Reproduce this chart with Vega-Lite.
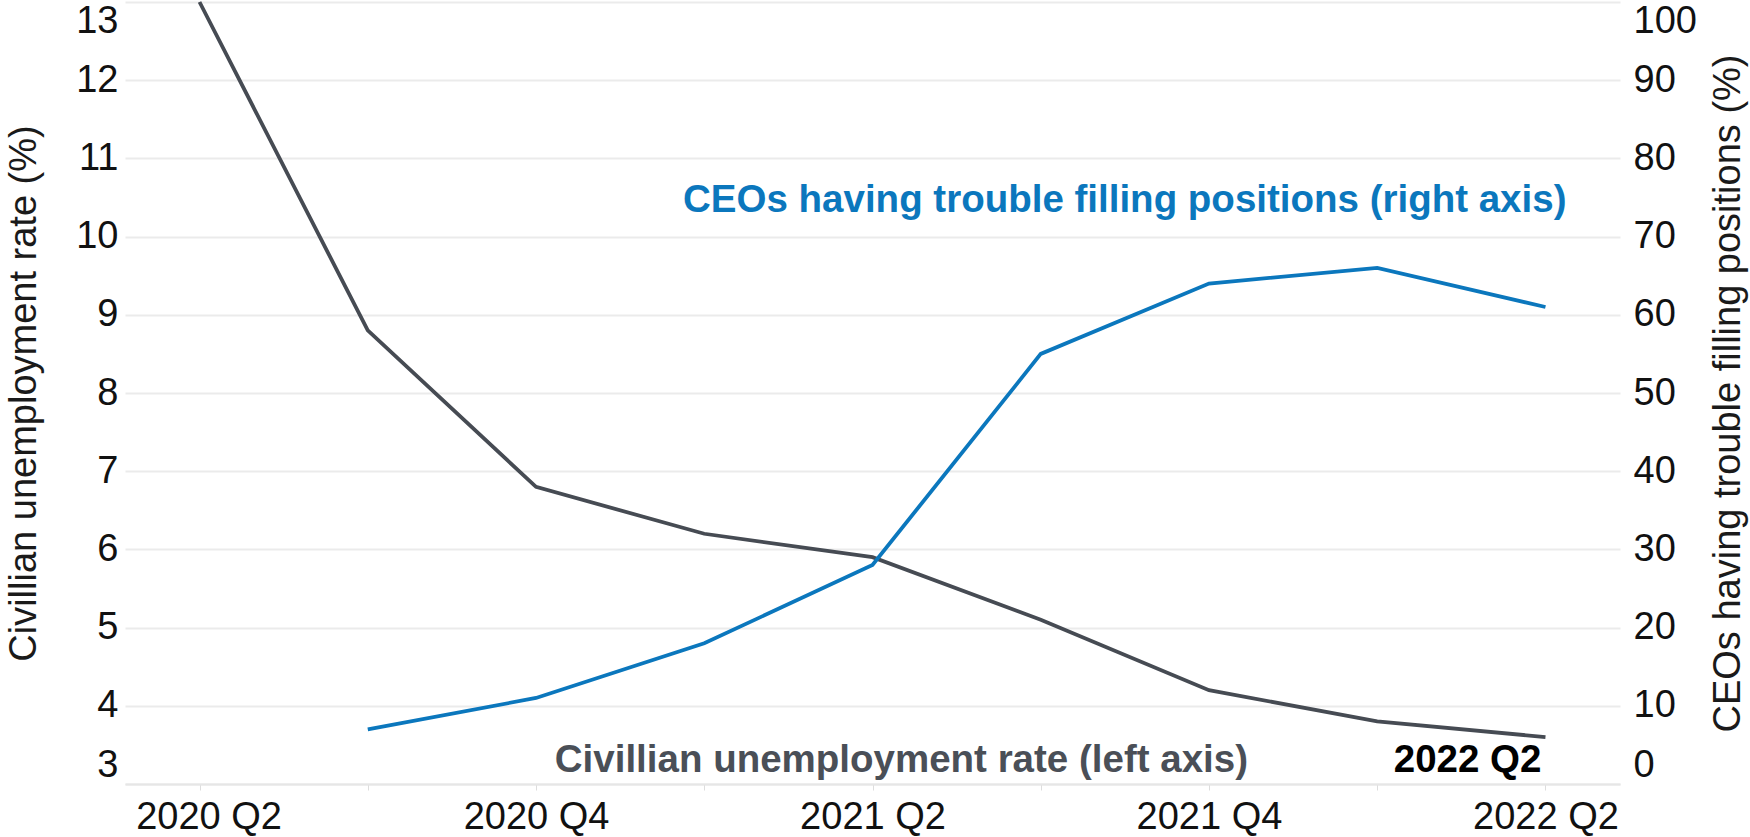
{
  "$schema": "https://vega.github.io/schema/vega-lite/v6.json",
  "width": 1495,
  "height": 782,
  "autosize": {"type": "none"},
  "padding": {"left": 125, "top": 2, "right": 130, "bottom": 53},
  "background": "white",
  "config": {
    "view": {"stroke": null},
    "font": "Liberation Sans",
    "axis": {"labelFont": "Liberation Sans", "titleFont": "Liberation Sans"}
  },
  "datasets": {
    "series": [
      {"quarter": "2020 Q2", "unemp": 13.0, "ceo": null},
      {"quarter": "2020 Q3", "unemp": 8.8, "ceo": 7},
      {"quarter": "2020 Q4", "unemp": 6.8, "ceo": 11},
      {"quarter": "2021 Q1", "unemp": 6.2, "ceo": 18},
      {"quarter": "2021 Q2", "unemp": 5.9, "ceo": 28},
      {"quarter": "2021 Q3", "unemp": 5.1, "ceo": 55},
      {"quarter": "2021 Q4", "unemp": 4.2, "ceo": 64},
      {"quarter": "2022 Q1", "unemp": 3.8, "ceo": 66},
      {"quarter": "2022 Q2", "unemp": 3.6, "ceo": 61}
    ],
    "leftNotes": [
      {"quarter": "2021 Q4", "value": 3.15, "label": "Civillian unemployment rate (left axis)"}
    ],
    "lastNotes": [
      {"quarter": "2022 Q2", "value": 3.15, "label": "2022 Q2"}
    ],
    "rightNotes": [
      {"quarter": "2022 Q2", "value": 73.15, "label": "CEOs having trouble filling positions (right axis)"}
    ]
  },
  "encoding": {
    "x": {
      "field": "quarter",
      "type": "ordinal",
      "scale": {
        "type": "point",
        "padding": 0.443,
        "domain": ["2020 Q2", "2020 Q3", "2020 Q4", "2021 Q1", "2021 Q2", "2021 Q3", "2021 Q4", "2022 Q1", "2022 Q2"]
      },
      "axis": {
        "title": null,
        "labelAngle": 0,
        "labelFontSize": 38,
        "labelColor": "#111111",
        "labelPadding": 8,
        "labelOffset": {"condition": {"test": "datum.value === '2020 Q2'", "value": 9}, "value": 0},
        "tickSize": 6,
        "tickColor": "#dddddd",
        "tickWidth": 1,
        "domainColor": "#e6e6e6",
        "domainWidth": 2,
        "grid": false,
        "labelExpr": "indexof(['2020 Q2','2020 Q4','2021 Q2','2021 Q4','2022 Q2'], datum.value) >= 0 ? datum.value : ''"
      }
    }
  },
  "layer": [
    {
      "encoding": {
        "y": {
          "type": "quantitative",
          "scale": {"domain": [3, 13], "nice": false, "zero": false},
          "axis": {
            "orient": "left",
            "title": "Civillian unemployment rate (%)",
            "titleFontSize": 38,
            "titleFontWeight": "normal",
            "titleColor": "#1a1a1a",
            "titleAngle": 270,
            "titleBaseline": "middle",
            "titleAlign": "center",
            "titleX": -101,
            "titleY": 391,
            "values": [3, 4, 5, 6, 7, 8, 9, 10, 11, 12, 13],
            "labelFontSize": 38,
            "labelColor": "#111111",
            "labelPadding": 7,
            "labelFlush": true,
            "ticks": false,
            "domain": false,
            "grid": true,
            "gridColor": "#ebebeb",
            "gridWidth": 2
          }
        }
      },
      "layer": [
        {
          "data": {"name": "series"},
          "mark": {"type": "line", "color": "#464b53", "strokeWidth": 3.8},
          "encoding": {"y": {"field": "unemp", "type": "quantitative"}}
        },
        {
          "data": {"name": "leftNotes"},
          "mark": {"type": "text", "align": "right", "baseline": "alphabetic", "dx": 39, "fontSize": 38.5, "fontWeight": "bold", "color": "#4a4f57"},
          "encoding": {"y": {"field": "value", "type": "quantitative"}, "text": {"field": "label"}}
        },
        {
          "data": {"name": "lastNotes"},
          "mark": {"type": "text", "align": "right", "baseline": "alphabetic", "dx": -4, "fontSize": 38.5, "fontWeight": "bold", "color": "#000000"},
          "encoding": {"y": {"field": "value", "type": "quantitative"}, "text": {"field": "label"}}
        }
      ]
    },
    {
      "encoding": {
        "y": {
          "type": "quantitative",
          "scale": {"domain": [0, 100], "nice": false},
          "axis": {
            "orient": "right",
            "title": "CEOs having trouble filling positions (%)",
            "titleFontSize": 38,
            "titleFontWeight": "normal",
            "titleColor": "#1a1a1a",
            "titleAngle": 270,
            "titleBaseline": "middle",
            "titleAlign": "center",
            "titleX": 108,
            "titleY": 391,
            "values": [0, 10, 20, 30, 40, 50, 60, 70, 80, 90, 100],
            "labelFontSize": 38,
            "labelColor": "#111111",
            "labelPadding": 13,
            "labelFlush": true,
            "ticks": false,
            "domain": false,
            "grid": false
          }
        }
      },
      "layer": [
        {
          "data": {"name": "series"},
          "mark": {"type": "line", "color": "#0b77bd", "strokeWidth": 3.8},
          "encoding": {"y": {"field": "ceo", "type": "quantitative"}}
        },
        {
          "data": {"name": "rightNotes"},
          "mark": {"type": "text", "align": "right", "baseline": "alphabetic", "dx": 21, "fontSize": 38.5, "fontWeight": "bold", "color": "#0b77bd"},
          "encoding": {"y": {"field": "value", "type": "quantitative"}, "text": {"field": "label"}}
        }
      ]
    }
  ],
  "resolve": {"scale": {"y": "independent"}}
}
